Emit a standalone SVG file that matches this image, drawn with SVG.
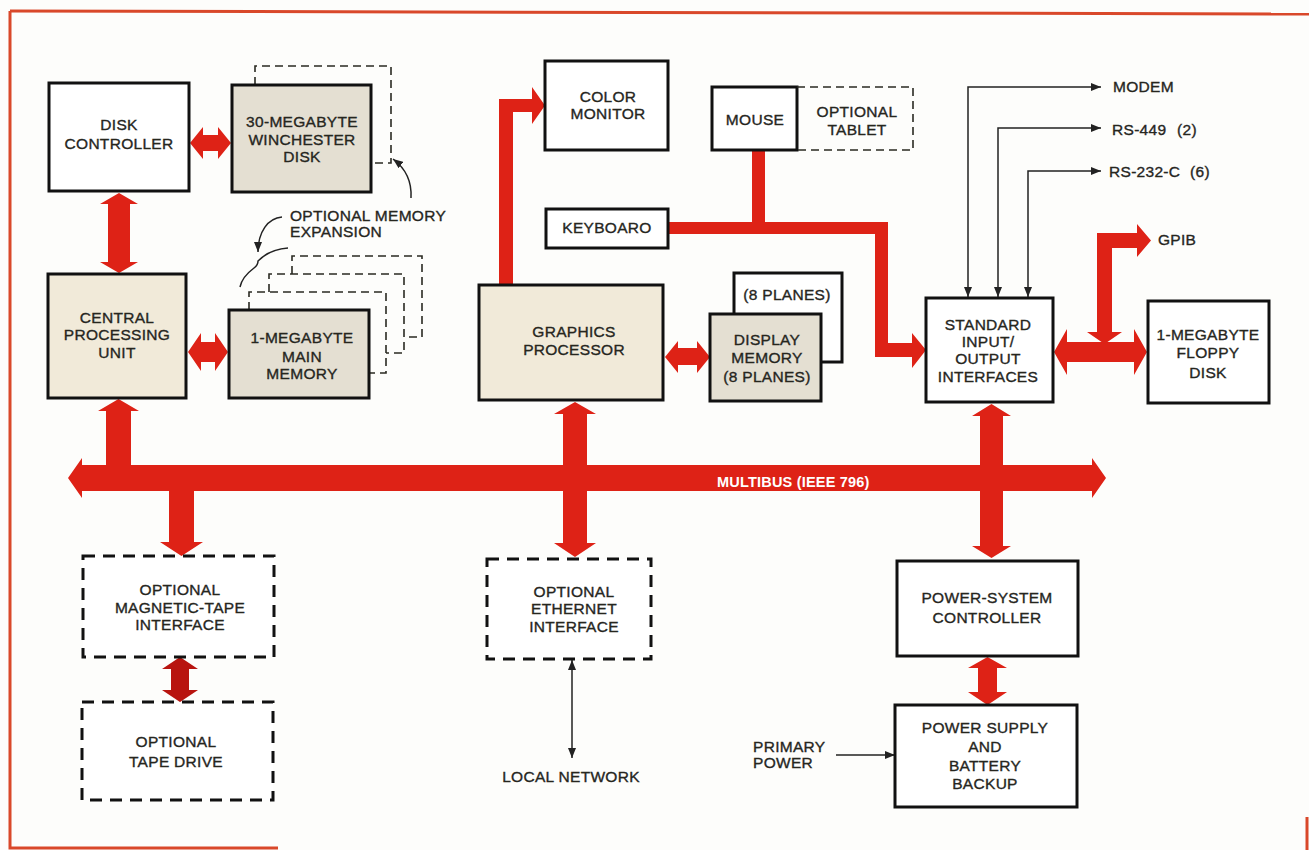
<svg xmlns="http://www.w3.org/2000/svg" width="1309" height="850" viewBox="0 0 1309 850">
<defs>
<style>
text{font-family:"Liberation Sans",Arial,sans-serif;font-size:15.5px;fill:#26261e;stroke:#26261e;stroke-width:0.35px;letter-spacing:0.3px}
.c{text-anchor:middle}
.box{fill:#fff;stroke:#111;stroke-width:3}
.cream{fill:#f1ead9;stroke:#111;stroke-width:3}
.gray{fill:#e4dfd2;stroke:#111;stroke-width:3}
.opt{fill:#fff;stroke:#111;stroke-width:3;stroke-dasharray:12 8}
.thin{fill:none;stroke:#2a2a22;stroke-width:1.6;stroke-dasharray:8 5}
.red{fill:#de2216}
.dred{fill:#b8140f}
.wire{fill:none;stroke:#222;stroke-width:1.5}
.frame{stroke:#d9482a;stroke-width:3;fill:none}
text.bus{font-weight:bold;font-size:14.5px;fill:#fff;stroke:none;letter-spacing:0.2px}
</style>
<marker id="ah" viewBox="0 0 10 8" refX="10" refY="4" markerWidth="10" markerHeight="8" markerUnits="userSpaceOnUse" orient="auto-start-reverse">
<path d="M0,0 L10,4 L0,8 z" fill="#222"/>
</marker>
</defs>
<rect x="0" y="0" width="1309" height="850" fill="#fdfdfb"/>
<g id="frame">
<path class="frame" d="M10 11 L1309 14"/>
<path class="frame" d="M10 11 V848 H278"/>
<path class="frame" d="M1307 817 V850"/>
</g>

<g id="connectors">
<polygon class="red" points="68,478 82,458 82,465 1092,465 1092,458 1106,478 1092,498 1092,491 82,491 82,498"/>
<text class="bus" x="717" y="487">MULTIBUS (IEEE 796)</text>
<polygon class="red" points="118.5,399 139,411 131,411 131,466 106,466 106,411 98,411"/>
<polygon class="red" points="169,490 194,490 194,542 203,542 181.5,556 160,542 169,542"/>
<polygon class="red" points="575,402 596,414 587,414 587,543 596,543 575,557 554,543 563,543 563,414 554,414"/>
<polygon class="red" points="991.5,404 1011,416 1003,416 1003,546 1011,546 991.5,558 972,546 980,546 980,416 972,416"/>
<polygon class="red" points="987.5,657 1007,668 997,668 997,692 1007,692 987.5,705 968,692 978,692 978,668 968,668"/>
<polygon class="dred" points="180,657 198,669 189,669 189,690 198,690 180,702 162,690 171,690 171,669 162,669"/>
<polygon class="red" points="119,193 138,204 130,204 130,262 138,262 119,273 100,262 108,262 108,204 100,204"/>
<polygon class="red" points="190,143 203,127 203,135 218,135 218,127 231,143 218,159 218,151 203,151 203,159"/>
<polygon class="red" points="188,352 201,333 201,342 215,342 215,333 228,352 215,371 215,362 201,362 201,371"/>
<polygon class="red" points="665,357 678,341 678,348 697,348 697,341 710,357 697,373 697,365 678,365 678,373"/>
<polygon class="red" points="1054,352 1067,329 1067,342 1134,342 1134,329 1147,352 1134,375 1134,362 1067,362 1067,375"/>
<polygon class="red" points="1097,233 1137,233 1137,224 1151,240.5 1137,257 1137,248 1112,248 1112,332 1122,332 1104.5,344 1087,332 1097,332"/>
<polygon class="red" points="499,285 499,99 532,99 532,87 545,105.5 532,124 532,112 513,112 513,285"/>
<polygon class="red" points="668,222 752,222 752,150 765,150 765,222 888,222 888,343 912,343 912,333 926,350 912,368 912,357 875,357 875,234 668,234"/>
<path class="wire" d="M968 297 V87 H1101" marker-start="url(#ah)" marker-end="url(#ah)"/>
<path class="wire" d="M998 297 V128 H1101" marker-start="url(#ah)" marker-end="url(#ah)"/>
<path class="wire" d="M1028 297 V171 H1101" marker-start="url(#ah)" marker-end="url(#ah)"/>
<path class="wire" d="M572 660 V758" marker-start="url(#ah)" marker-end="url(#ah)"/>
<path class="wire" d="M836 755 H895" marker-end="url(#ah)"/>
<path class="wire" d="M282 217 C268 218 258 232 258 252" marker-end="url(#ah)"/>
<path class="wire" d="M411 198 C412 181 405 168 393 159" marker-end="url(#ah)"/>
<path class="wire" d="M240 287 C242 277 250 271 254 268 C257 266 258 263 258 261 C262 257 272 249 288 248"/>
</g>

<g id="disk-controller">
<rect class="box" x="49" y="83" width="140" height="108"/>
<text class="c" x="119" y="130">DISK</text>
<text class="c" x="119" y="149">CONTROLLER</text>
</g>

<g id="winchester">
<path class="thin" d="M255 85 V66 H391 V163 H371"/>
<rect class="gray" x="232" y="85" width="139" height="107"/>
<text class="c" x="302" y="127">30-MEGABYTE</text>
<text class="c" x="302" y="145">WINCHESTER</text>
<text class="c" x="302" y="162">DISK</text>
</g>

<g id="memory-expansion">
<path class="thin" d="M249 310 V292 H386 V373 H369"/>
<path class="thin" d="M269 292 V274 H404 V353 H386"/>
<path class="thin" d="M292 274 V256 H422 V337 H404"/>
<text x="290" y="221">OPTIONAL MEMORY</text>
<text x="290" y="237">EXPANSION</text>
</g>

<g id="cpu">
<rect class="cream" x="48" y="274" width="138" height="124"/>
<text class="c" x="117" y="323">CENTRAL</text>
<text class="c" x="117" y="340">PROCESSING</text>
<text class="c" x="117" y="358">UNIT</text>
</g>

<g id="main-memory">
<rect class="gray" x="229" y="310" width="140" height="88"/>
<text class="c" x="302" y="343">1-MEGABYTE</text>
<text class="c" x="302" y="362">MAIN</text>
<text class="c" x="302" y="379">MEMORY</text>
</g>

<g id="color-monitor">
<rect class="box" x="545" y="61" width="123" height="89"/>
<text class="c" x="608" y="102">COLOR</text>
<text class="c" x="608" y="119">MONITOR</text>
</g>

<g id="mouse">
<rect class="box" x="712" y="87" width="85" height="63"/>
<text class="c" x="755" y="125">MOUSE</text>
</g>

<g id="optional-tablet">
<path class="thin" d="M797 87 H913 V150 H797"/>
<text class="c" x="857" y="117">OPTIONAL</text>
<text class="c" x="857" y="135">TABLET</text>
</g>

<g id="keyboard">
<rect class="box" x="546" y="209" width="122" height="39"/>
<text class="c" x="607" y="233">KEYBOARO</text>
</g>

<g id="graphics-processor">
<rect class="cream" x="479" y="285" width="184" height="115"/>
<text class="c" x="574" y="337">GRAPHICS</text>
<text class="c" x="574" y="355">PROCESSOR</text>
</g>

<g id="display-memory">
<rect class="box" x="734" y="273" width="108" height="89"/>
<text class="c" x="787" y="300">(8 PLANES)</text>
<rect class="gray" x="710" y="314" width="111" height="87"/>
<text class="c" x="767" y="345">DISPLAY</text>
<text class="c" x="767" y="363">MEMORY</text>
<text class="c" x="767" y="382">(8 PLANES)</text>
</g>

<g id="io-interfaces">
<rect class="box" x="926" y="298" width="127" height="104"/>
<text class="c" x="988" y="330">STANDARD</text>
<text class="c" x="988" y="347">INPUT/</text>
<text class="c" x="988" y="364">OUTPUT</text>
<text class="c" x="988" y="382">INTERFACES</text>
</g>

<g id="io-labels">
<text x="1113" y="92">MODEM</text>
<text x="1112" y="135">RS-449</text>
<text x="1177" y="135">(2)</text>
<text x="1109" y="177">RS-232-C</text>
<text x="1190" y="177">(6)</text>
<text x="1158" y="245">GPIB</text>
</g>

<g id="floppy">
<rect class="box" x="1148" y="301" width="121" height="102"/>
<text class="c" x="1208" y="340">1-MEGABYTE</text>
<text class="c" x="1208" y="358">FLOPPY</text>
<text class="c" x="1208" y="378">DISK</text>
</g>

<g id="mag-tape-interface">
<rect class="opt" x="83" y="556" width="191" height="101"/>
<text class="c" x="180" y="595">OPTIONAL</text>
<text class="c" x="180" y="613">MAGNETIC-TAPE</text>
<text class="c" x="180" y="630">INTERFACE</text>
</g>

<g id="tape-drive">
<rect class="opt" x="82" y="702" width="191" height="98"/>
<text class="c" x="176" y="747">OPTIONAL</text>
<text class="c" x="176" y="767">TAPE DRIVE</text>
</g>

<g id="ethernet">
<rect class="opt" x="487" y="559" width="164" height="100"/>
<text class="c" x="574" y="597">OPTIONAL</text>
<text class="c" x="574" y="614">ETHERNET</text>
<text class="c" x="574" y="632">INTERFACE</text>
</g>

<g id="local-network">
<text class="c" x="571" y="782">LOCAL NETWORK</text>
</g>

<g id="power-controller">
<rect class="box" x="897" y="561" width="181" height="95"/>
<text class="c" x="987" y="603">POWER-SYSTEM</text>
<text class="c" x="987" y="623">CONTROLLER</text>
</g>

<g id="power-supply">
<rect class="box" x="895" y="705" width="182" height="102"/>
<text class="c" x="985" y="733">POWER SUPPLY</text>
<text class="c" x="985" y="752">AND</text>
<text class="c" x="985" y="771">BATTERY</text>
<text class="c" x="985" y="789">BACKUP</text>
</g>

<g id="primary-power">
<text x="753" y="752">PRIMARY</text>
<text x="753" y="768">POWER</text>
</g>
</svg>
